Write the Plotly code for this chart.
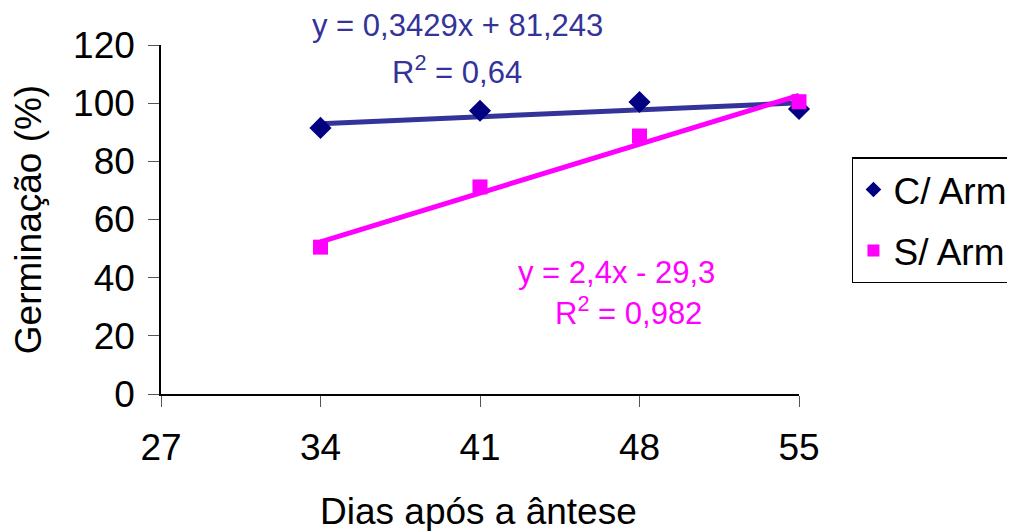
import numpy as np
import plotly.graph_objects as go

# Data
dias = [34, 41, 48, 55]
c_arm = [91.5, 97.4, 100.4, 98.0]
s_arm = [50.5, 71.2, 88.7, 100.5]
series_names = ["C/ Arm", "S/ Arm"]
trend_slope = [0.3429, 2.4]
trend_intercept = [81.243, -29.3]
eq_text = ["y = 0,3429x + 81,243", "y = 2,4x - 29,3"]
r2_text = ["R<sup>2</sup> = 0,64", "R<sup>2</sup> = 0,982"]
x_ticks = [27, 34, 41, 48, 55]
y_ticks = [0, 20, 40, 60, 80, 100, 120]
x_title = "Dias após a ântese"
y_title = "Germinação (%)"

FONT = "Liberation Sans, Arial, sans-serif"
fig = go.Figure()

# trendlines
trend_colors = ["#333399", "#FF00FF"]
xs = np.array([dias[0], dias[-1]], dtype=float)
for i in range(2):
    fig.add_trace(go.Scatter(
        x=xs, y=trend_slope[i] * xs + trend_intercept[i], mode="lines",
        line=dict(color=trend_colors[i], width=5), showlegend=False,
        hoverinfo="skip", cliponaxis=False))

fig.add_trace(go.Scatter(
    x=dias, y=c_arm, mode="markers", name=series_names[0], legendgroup="a",
    marker=dict(symbol="diamond", size=17, color="#000080"), cliponaxis=False))
fig.add_trace(go.Scatter(
    x=dias, y=s_arm, mode="markers", name=series_names[1], legendgroup="b",
    marker=dict(symbol="square", size=15, color="#FF00FF"), cliponaxis=False))

# equation labels
fig.add_annotation(x=40.0, xref="x", y=1.055, yref="paper", yanchor="middle",
                   text=eq_text[0], showarrow=False,
                   font=dict(family=FONT, size=31, color="#333399"))
fig.add_annotation(x=40.0, xref="x", y=0.928, yref="paper", yanchor="middle",
                   text=r2_text[0], showarrow=False,
                   font=dict(family=FONT, size=31, color="#333399"))
fig.add_annotation(x=47.0, y=41.8, text=eq_text[1], showarrow=False, yanchor="middle",
                   font=dict(family=FONT, size=31, color="#FF00FF"))
fig.add_annotation(x=47.5, y=28.5, text=r2_text[1], showarrow=False, yanchor="middle",
                   font=dict(family=FONT, size=31, color="#FF00FF"))

# x-axis title (placed as annotation to sit near the bottom edge)
fig.add_annotation(x=0.497, xref="paper", y=-0.336, yref="paper", yanchor="middle",
                   xanchor="center", text=x_title, showarrow=False,
                   font=dict(family=FONT, size=37, color="#000000"))

axis_common = dict(showgrid=False, zeroline=False, showline=True, linecolor="#000000",
                   linewidth=1.5, ticks="outside", ticklen=11, tickwidth=1.2,
                   tickcolor="#555555",
                   tickfont=dict(family=FONT, size=37, color="#000000"))

fig.update_layout(
    width=999, height=523,
    paper_bgcolor="white", plot_bgcolor="white",
    margin=dict(l=153, r=208, t=37, b=137, autoexpand=False),
    xaxis=dict(range=[27, 55], tickvals=x_ticks, ticklabelstandoff=9,
               **axis_common),
    yaxis=dict(range=[0, 120], tickvals=y_ticks, ticklabelstandoff=6,
               title=dict(text=y_title, standoff=20,
                          font=dict(family=FONT, size=37, color="#000000")),
               **axis_common),
    legend=dict(x=1.083, y=0.678, xanchor="left", yanchor="top",
                bordercolor="#000000", borderwidth=1.5, bgcolor="white",
                font=dict(family=FONT, size=37, color="#000000"),
                tracegroupgap=10, entrywidth=200, itemsizing="constant"),
)

fig.write_html("out.html")
